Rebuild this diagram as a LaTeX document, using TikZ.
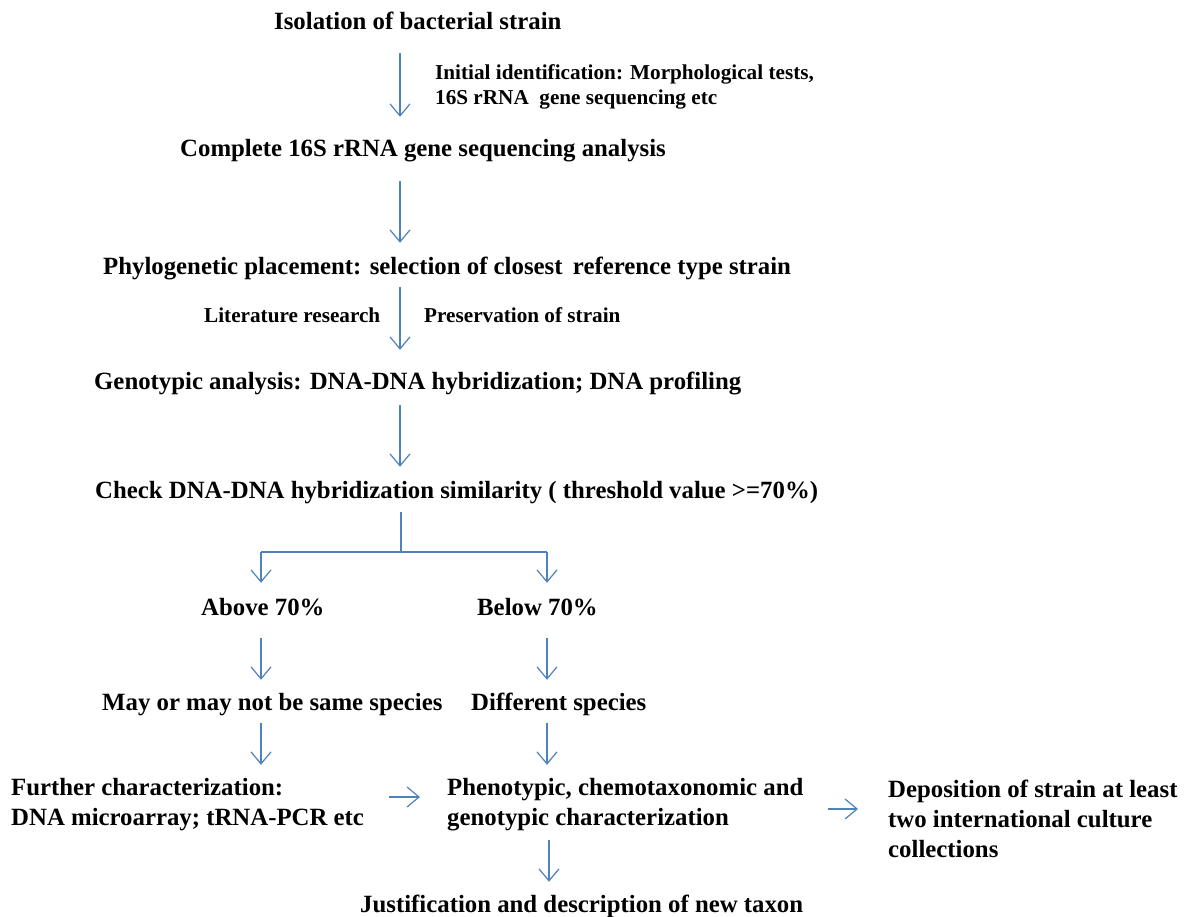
\documentclass[tikz,border=0pt]{standalone}
\usepackage{fontspec}
\setmainfont{Liberation Serif}
\usetikzlibrary{arrows.meta}
\definecolor{arrowblue}{HTML}{4F81BD}
\begin{document}
\begin{tikzpicture}[x=1pt,y=-1pt,
  txt/.style={font=\bfseries\fontsize{24.8}{30}\selectfont, inner sep=0pt, anchor=base west, text height=16pt, text depth=5pt},
  small/.style={font=\bfseries\fontsize{21.2}{25}\selectfont, inner sep=0pt, anchor=base west, text height=16pt, text depth=5pt},
  conn/.style={draw=arrowblue, line width=1.2pt},
  arr/.style={conn, -{Straight Barb[length=12pt,width=20pt]}}]
\useasboundingbox (0,0) rectangle (1184,917);
% text
\node[txt] (isol) at (274,30) {Isolation of bacterial strain};
\node[small] (init1) at (435,80) {Initial identification: Morphological tests,};
\node[small] (init2) at (435,105) {16S rRNA\ \ gene sequencing etc};
\node[txt] (c16) at (180,157) {Complete 16S rRNA gene sequencing analysis};
\node[txt] (phyl) at (103,275) {Phylogenetic placement: selection of closest\,\ reference type strain};
\node[small] (lit) at (204,323) {Literature research};
\node[small] (pres) at (424,323) {Preservation of strain};
\node[txt] (geno) at (94,390) {Genotypic analysis: DNA-DNA hybridization; DNA profiling};
\node[txt] (check) at (95,498) {Check DNA-DNA hybridization similarity ( threshold value >=70\%)};
\node[txt] (above) at (201,615) {Above 70\%};
\node[txt] (below) at (477,615) {Below 70\%};
\node[txt] (may) at (102,710) {May or may not be same species};
\node[txt] (diff) at (471,710) {Different species};
\node[txt] (fc1) at (11,795) {Further characterization:};
\node[txt] (fc2) at (11,825) {DNA microarray; tRNA-PCR etc};
\node[txt] (ph1) at (447,795) {Phenotypic, chemotaxonomic and};
\node[txt] (ph2) at (447,825) {genotypic characterization};
\node[txt] (dep1) at (888,797) {Deposition of strain at least};
\node[txt] (dep2) at (888,827) {two international culture};
\node[txt] (dep3) at (888,857) {collections};
\node[txt] (just) at (360,912) {Justification and description of new taxon};
% helper coordinates
\coordinate (spine) at (400,0);
\coordinate (stem) at (401,552);
\coordinate (bl) at (261,552);
\coordinate (brr) at (547,552);
\coordinate (hA) at (389,797);
\coordinate (hB) at (828,809);
% connectors
\draw[arr, shorten <=18pt, shorten >=24pt] (isol.south -| spine) -- (c16.north -| spine);
\draw[arr, shorten <=19pt, shorten >=16pt] (c16.south -| spine) -- (phyl.north -| spine);
\draw[arr, shorten <=7pt, shorten >=24pt] (phyl.south -| spine) -- (geno.north -| spine);
\draw[arr, shorten <=10pt, shorten >=15pt] (geno.south -| spine) -- (check.north -| spine);
\draw[conn, shorten <=9pt] (check.south -| stem) -- (stem);
\draw[conn] (bl) -- (brr);
\draw[arr, shorten >=16pt] (bl) -- (above.north -| bl);
\draw[arr, shorten >=16pt] (brr) -- (below.north -| brr);
\draw[arr, shorten <=18pt, shorten >=14pt] (above.south -| bl) -- (may.north -| bl);
\draw[arr, shorten <=18pt, shorten >=14pt] (below.south -| brr) -- (diff.north -| brr);
\draw[arr, shorten <=8pt, shorten >=14pt] (may.south -| bl) -- (fc1.north -| bl);
\draw[arr, shorten <=8pt, shorten >=14pt] (diff.south -| brr) -- (ph1.north -| brr);
\draw[arr, shorten >=27pt] (hA) -- (ph1.west |- hA);
\draw[arr, shorten >=30pt] (hB) -- (dep1.west |- hB);
\draw[arr, shorten <=10pt, shorten >=14pt] (ph2.south -| 549,0) -- (just.north -| 549,0);
\end{tikzpicture}
\end{document}
